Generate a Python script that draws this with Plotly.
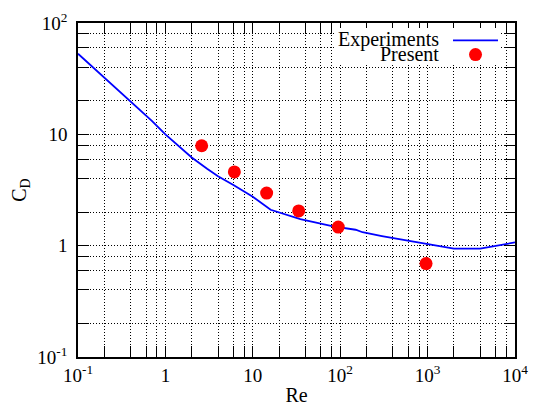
import plotly.graph_objects as go

# Experiments (reference curve)
exp_re = [0.1, 0.2, 0.4, 0.7, 1, 1.5, 2, 3, 4, 6, 10, 16, 35, 50, 83,
          150, 180, 300, 630, 1000, 2000, 4000, 6000, 10000]
exp_cd = [53, 32.4, 19.8, 13.2, 10.0, 7.5, 6.2, 4.9, 4.2, 3.5, 2.75, 2.1, 1.73,
          1.63, 1.49, 1.39, 1.32, 1.22, 1.10, 1.02, 0.94, 0.94, 0.99, 1.07]

# Present results
pre_re = [2.6, 6.15, 14.4, 33.5, 95, 960]
pre_cd = [7.9, 4.6, 2.97, 2.05, 1.47, 0.69]

# Tick labels
x_tickvals = [0.1, 1, 10, 100, 1000, 10000]
x_ticktext = ["10<sup>-1</sup>", "1", "10", "10<sup>2</sup>", "10<sup>3</sup>", "10<sup>4</sup>"]
y_tickvals = [0.1, 1, 10, 100]
y_ticktext = ["10<sup>-1</sup>", "1", "10", "10<sup>2</sup>"]

x_minor = [k * 10 ** d for d in range(-1, 4) for k in (2, 4, 6, 8)]
y_minor = [k * 10 ** d for d in range(-1, 2) for k in (2, 4, 6, 8)]

FONT = "Liberation Serif"

fig = go.Figure()
fig.add_trace(go.Scatter(x=exp_re, y=exp_cd, mode="lines", name="", legend="legend",
                         line=dict(color="#0000ff", width=1.8)))
fig.add_trace(go.Scatter(x=pre_re, y=pre_cd, mode="markers", name="", legend="legend2",
                         marker=dict(color="#ff0000", size=13)))

axis_common = dict(
    type="log", showline=True, linecolor="black", linewidth=1.5, mirror="allticks",
    ticks="inside", ticklen=11, tickwidth=1, tickcolor="black", automargin=False,
    showgrid=True, gridcolor="black", gridwidth=1, griddash="1px,2px",
    zeroline=False, tickfont=dict(family=FONT, size=19, color="black"),
)

fig.update_xaxes(
    **axis_common, range=[-1, 4], tickmode="array", tickvals=x_tickvals, ticktext=x_ticktext,
    ticklabelstandoff=0,
    minor=dict(tickmode="array", tickvals=x_minor, ticks="inside", ticklen=11,
               tickcolor="black", showgrid=True, gridcolor="black", griddash="1px,2px"),
    title=dict(text="Re", font=dict(family=FONT, size=20, color="black"), standoff=8),
)
fig.update_yaxes(
    **axis_common, range=[-1, 2], tickmode="array", tickvals=y_tickvals, ticktext=y_ticktext,
    ticklabelstandoff=5,
    minor=dict(tickmode="array", tickvals=y_minor, ticks="inside", ticklen=11,
               tickcolor="black", showgrid=True, gridcolor="black", griddash="1px,2px"),
    title=dict(text="C<sub>D</sub>", font=dict(family=FONT, size=20, color="black"), standoff=8),
)

# white key box behind the legend entries (hides the grid there, as in the reference)
fig.add_shape(type="rect", xref="paper", yref="paper", x0=0.590, x1=0.966, y0=0.880, y1=0.985,
              fillcolor="white", line=dict(width=0), layer="above")

fig.add_annotation(text="Experiments", xref="paper", yref="paper", x=0.8284, y=0.9516,
                   xanchor="right", yanchor="middle", showarrow=False,
                   font=dict(family=FONT, size=20, color="black"), borderpad=0)
fig.add_annotation(text="Present", xref="paper", yref="paper", x=0.8284, y=0.9067,
                   xanchor="right", yanchor="middle", showarrow=False,
                   font=dict(family=FONT, size=20, color="black"), borderpad=0)

leg_common = dict(xanchor="left", yanchor="top", bgcolor="rgba(0,0,0,0)",
                  font=dict(family=FONT, size=10), itemwidth=45, borderwidth=0)

fig.update_layout(
    width=530, height=398,
    margin=dict(l=70, r=23, t=15, b=49),
    paper_bgcolor="white", plot_bgcolor="white",
    showlegend=True,
    legend=dict(x=0.8467, y=0.9913, **leg_common),
    legend2=dict(x=0.8467, y=0.949, **leg_common),
    font=dict(family=FONT, size=19, color="black"),
)

fig.write_html("out.html")
